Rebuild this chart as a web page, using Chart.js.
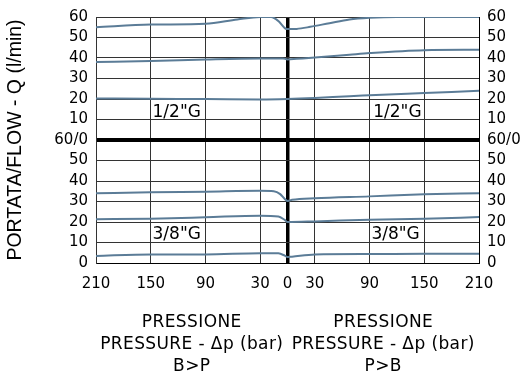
<!DOCTYPE html>
<html>
<head>
<meta charset="utf-8">
<script src="https://cdn.jsdelivr.net/npm/chart.js@4.4.1/dist/chart.umd.min.js"></script>
<style>
  html, body { margin: 0; padding: 0; background: #fff; }
  #wrap { width: 523px; height: 379px; }
</style>
</head>
<body>
<div id="wrap"><canvas id="flowChart"></canvas></div>
<script>
// ===== Data =====
// pressure in bar: negative = B>P side (left), positive = P>B side (right)
// flow in l/min, each diagram 0..60

// 1/2"G (upper diagram)
const halfInchPressA = [-210, -150, -90, -55, -30, -18, -10, -3, 0, 10, 25, 46, 68, 90, 120, 150, 210];
const halfInchFlowA  = [55, 56.3, 56.7, 58.8, 60, 60, 58, 54.6, 54.1, 54.2, 55.2, 57, 58.8, 59.6, 60, 60, 60];
const halfInchPressB = [-210, -150, -90, -30, -5, 0, 10, 30, 68, 90, 150, 210];
const halfInchFlowB  = [38.1, 38.5, 39.3, 39.8, 39.8, 39.3, 39.6, 40.2, 41.6, 42.4, 43.8, 44];
const halfInchPressC = [-210, -150, -90, -30, 0, 30, 68, 90, 150, 210];
const halfInchFlowC  = [20.3, 20.1, 20, 19.8, 20, 20.5, 21.4, 21.8, 22.9, 24];

// 3/8"G (lower diagram)
const threeEighthPressA = [-210, -150, -90, -30, -15, -8, -3, 0, 5, 30, 90, 150, 210];
const threeEighthFlowA  = [34, 34.5, 34.8, 35.2, 35, 33.6, 31.2, 30.3, 30.8, 31.6, 32.5, 33.5, 34];
const threeEighthPressB = [-210, -150, -90, -30, -10, -3, 0, 30, 90, 150, 210];
const threeEighthFlowB  = [21.4, 21.6, 22.3, 23.1, 22.7, 21, 20, 20.3, 21.1, 21.6, 22.4];
const threeEighthPressC = [-210, -150, -90, -30, -10, -3, 0, 5, 30, 90, 150, 210];
const threeEighthFlowC  = [3.4, 4.2, 4.2, 4.8, 4.7, 3.6, 2.9, 3.1, 4.2, 4.4, 4.5, 4.5];

// axis ticks
const pressureTicks = [-210, -150, -90, -30, 0, 30, 90, 150, 210];
const flowTicks = [0, 10, 20, 30, 40, 50, 60, 70, 80, 90, 100, 110, 120];

// ===== Helpers =====
const UPPER_OFFSET = 60; // upper diagram sits on top of the lower one
const LINE_COLOR = "#5b7c97";

function toPoints(press, flow, offset) {
  return press.map((p, i) => ({ x: p, y: flow[i] + offset }));
}

function curve(press, flow, offset) {
  return {
    data: toPoints(press, flow, offset),
    borderColor: LINE_COLOR,
    borderWidth: 2,
    pointRadius: 0,
    fill: false,
    cubicInterpolationMode: "monotone"
  };
}

function flowLabel(v) {
  if (v === 60) return "60/0";
  return v > 60 ? String(v - 60) : String(v);
}

// ===== Extra texts: size labels + pressure titles =====
const textPlugin = {
  id: "texts",
  afterDraw(chart) {
    const { ctx, chartArea, scales } = chart;
    const x = scales.x, y = scales.y;
    ctx.save();
    ctx.fillStyle = "#000";
    ctx.font = "17px 'DejaVu Sans'";
    ctx.textAlign = "left";
    ctx.textBaseline = "alphabetic";
    ctx.fillText('1/2"G', x.getPixelForValue(-148), y.getPixelForValue(71));
    ctx.fillText('1/2"G', x.getPixelForValue(94), y.getPixelForValue(71));
    ctx.fillText('3/8"G', x.getPixelForValue(-148), y.getPixelForValue(11.6));
    ctx.fillText('3/8"G', x.getPixelForValue(92), y.getPixelForValue(11.6));

    const mid = x.getPixelForValue(0);
    const leftC = (chartArea.left + mid) / 2;
    const rightC = (mid + chartArea.right) / 2;
    const b = chartArea.bottom;
    ctx.font = "17px 'DejaVu Sans'";
    ctx.letterSpacing = "0.4px";
    ctx.textAlign = "center";
    ctx.textBaseline = "middle";
    [["PRESSIONE", 60], ["PRESSURE - \u0394p (bar)", 82]].forEach(([t, dy]) => {
      ctx.fillText(t, leftC, b + dy);
      ctx.fillText(t, rightC, b + dy);
    });
    ctx.fillText("B>P", leftC, b + 104);
    ctx.fillText("P>B", rightC, b + 104);
    ctx.restore();
  }
};

// ===== Chart =====
Chart.defaults.font.family = "'DejaVu Sans', sans-serif";
Chart.defaults.color = "#000";

function gridWidth(c) { return c.tick && c.tick.value === 0 ? 3.5 : 1; }
function gridWidthY(c) { return c.tick && c.tick.value === 60 ? 4 : 1; }
function gridColor(c) { return c.tick && (c.tick.value === 0) ? "#000" : "#333"; }
function gridColorY(c) { return c.tick && (c.tick.value === 60) ? "#000" : "#333"; }

new Chart(document.getElementById("flowChart"), {
  type: "line",
  data: {
    datasets: [
      curve(halfInchPressA, halfInchFlowA, UPPER_OFFSET),
      curve(halfInchPressB, halfInchFlowB, UPPER_OFFSET),
      curve(halfInchPressC, halfInchFlowC, UPPER_OFFSET),
      curve(threeEighthPressA, threeEighthFlowA, 0),
      curve(threeEighthPressB, threeEighthFlowB, 0),
      curve(threeEighthPressC, threeEighthFlowC, 0)
    ]
  },
  options: {
    responsive: true,
    maintainAspectRatio: false,
    animation: false,
    layout: { padding: { top: 13, right: 0, bottom: 0, left: 0 } },
    plugins: { legend: { display: false }, tooltip: { enabled: false } },
    scales: {
      x: {
        type: "linear",
        min: -210,
        max: 210,
        afterBuildTicks: s => { s.ticks = pressureTicks.map(v => ({ value: v })); },
        afterFit: s => { s.height = 116; },
        grid: { color: gridColor, lineWidth: gridWidth, drawTicks: false },
        border: { color: "#000", width: 1 },
        ticks: {
          padding: 12,
          autoSkip: false,
          maxRotation: 0,
          font: { size: 15 },
          callback: v => String(Math.abs(v))
        }
      },
      y: {
        type: "linear",
        position: "left",
        min: 0,
        max: 120,
        afterBuildTicks: s => { s.ticks = flowTicks.map(v => ({ value: v })); },
        afterFit: s => { s.width = 96; },
        grid: { color: gridColorY, lineWidth: gridWidthY, drawTicks: false },
        border: { color: "#333", width: 1 },
        ticks: { padding: 8, autoSkip: false, font: { size: 15 }, callback: v => flowLabel(v) },
        title: {
          display: true,
          text: "PORTATA/FLOW - Q (l/min)",
          font: { family: "'Liberation Sans'", size: 19.5 },
          padding: { top: 4, bottom: 0 }
        }
      },
      y2: {
        type: "linear",
        position: "right",
        min: 0,
        max: 120,
        afterBuildTicks: s => { s.ticks = flowTicks.map(v => ({ value: v })); },
        afterFit: s => { s.width = 44; },
        grid: { display: false, drawTicks: false },
        border: { color: "#000", width: 1 },
        ticks: { padding: 8, autoSkip: false, font: { size: 15 }, callback: v => flowLabel(v) }
      }
    }
  },
  plugins: [textPlugin]
});
</script>
</body>
</html>
